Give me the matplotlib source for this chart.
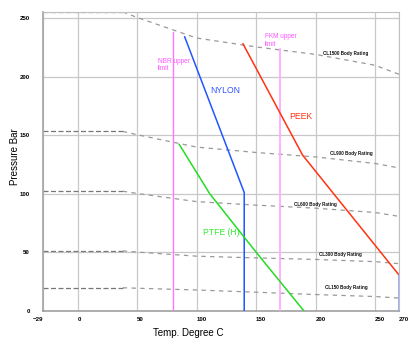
import matplotlib
matplotlib.use("Agg")
import matplotlib.pyplot as plt

plt.rcParams['font.family'] = ['Liberation Sans', 'DejaVu Sans']

# Body ratings (bar) vs temperature (deg C)
rating_temps = [-29, 38, 50, 100, 150, 200, 250, 270]
cl1500 = [255.3, 255.3, 250.6, 233.0, 225.4, 219.0, 209.7, 202.0]
cl900 = [153.2, 153.2, 150.4, 139.8, 135.2, 131.4, 125.8, 122.0]
cl600 = [102.1, 102.1, 100.2, 93.2, 90.2, 87.6, 83.9, 80.6]
cl300 = [51.1, 51.1, 50.1, 46.6, 45.1, 43.8, 41.9, 40.2]
cl150 = [19.6, 19.6, 19.2, 17.7, 15.8, 13.8, 12.1, 10.8]
rating_names = ["CL1500 Body Rating", "CL900 Body Rating", "CL600 Body Rating",
                "CL300 Body Rating", "CL150 Body Rating"]
rating_label_pos = [(206, 220), (212, 134), (182, 91), (203, 48), (208, 20)]

# Seat materials
nylon_t = [90, 140, 140]
nylon_p = [234, 101, 0]
peek_t = [139, 189, 270]
peek_p = [228, 133, 30.5]
peek_end_t = [270, 270]
peek_end_p = [30.5, 0]
ptfe_t = [85.5, 111, 150, 190]
ptfe_p = [142, 100, 50, 0]

# Elastomer limits
nbr_t = [80, 80]
nbr_p = [0, 238.5]
fkm_t = [170, 170]
fkm_p = [0, 223.5]

xticks = [-29, 0, 50, 100, 150, 200, 250, 270]
yticks = [0, 50, 100, 150, 200, 250]

fig = plt.figure(figsize=(4.2, 3.5), dpi=100)
ax = fig.add_axes([43/420, 1-310.7/350, 356/420, 299/350])
ax.set_xlim(-29, 270)
ax.set_ylim(0, 255.5)

ax.set_xticks(xticks)
ax.set_yticks(yticks)
ax.grid(True, color='#c8c8c8', lw=0.9)
ax.set_axisbelow(True)
ax.tick_params(length=0, labelsize=4.4)
ax.tick_params(axis='x', pad=4.5)
ax.tick_params(axis='y', pad=9.5)
for lab in ax.get_xticklabels():
    lab.set_fontweight('bold')
    lab.set_ha('right' if lab.get_text() in ('-29', '−29') else 'left')
for lab in ax.get_yticklabels():
    lab.set_fontweight('bold')

for s, c in [('left', '#aaaaaa'), ('bottom', '#999999'), ('top', '#c0c0c0'), ('right', '#c0c0c0')]:
    ax.spines[s].set_color(c)
ax.spines['left'].set_linewidth(1.3)
ax.spines['bottom'].set_linewidth(1.1)

# Rating curves: flat part darker dashes, sloped part lighter
for vals, name, (lx, ly) in zip([cl1500, cl900, cl600, cl300, cl150], rating_names, rating_label_pos):
    ax.plot(rating_temps[:2], vals[:2], color='#777777', lw=0.9, ls=(0, (4, 2)), zorder=2)
    ax.plot(rating_temps[1:], vals[1:], color='#999999', lw=0.9, ls=(0, (3.5, 3.5)), zorder=2)
    ax.text(lx, ly, name, fontsize=3.35, fontweight='bold', color='#111111',
            ha='left', va='center', zorder=5)

# Elastomer limit lines
ax.plot(nbr_t, nbr_p, color='#ff77ff', lw=1.0, zorder=3)
ax.plot(fkm_t, fkm_p, color='#ffaaff', lw=1.3, zorder=3)
ax.text(67.3, 212.6, "NBR upper", fontsize=4.7, color='#ff55ff', ha='left', va='center')
ax.text(67.3, 206.6, "limit", fontsize=4.7, color='#ff55ff', ha='left', va='center')
ax.text(157.3, 234.2, "FKM upper", fontsize=4.7, color='#ff55ff', ha='left', va='center')
ax.text(157.3, 227.6, "limit", fontsize=4.7, color='#ff55ff', ha='left', va='center')

# Materials
ax.plot(nylon_t, nylon_p, color='#2255ff', lw=1.1, zorder=4)
ax.plot(peek_t, peek_p, color='#ff3311', lw=1.1, zorder=4)
ax.plot(peek_end_t, peek_end_p, color='#8899ff', lw=1.1, zorder=4)
ax.plot(ptfe_t, ptfe_p, color='#22dd22', lw=1.1, zorder=4)

ax.text(123.7, 188, "NYLON", fontsize=6.2, color='#3355ff', ha='center', va='center')
ax.text(187.5, 165.8, "PEEK", fontsize=6.2, color='#ff3311', ha='center', va='center')
ax.text(120.5, 67, "PTFE (H)", fontsize=6.2, color='#33ee33', ha='center', va='center')

fig.text(187.8/420, 1-333.3/350, "Temp. Degree C", fontsize=7, ha='center', va='center')
fig.text(15/420, 1-156.7/350, "Pressure Bar", fontsize=7, rotation=90, ha='center', va='center')

fig.savefig("out.png", dpi=100)
